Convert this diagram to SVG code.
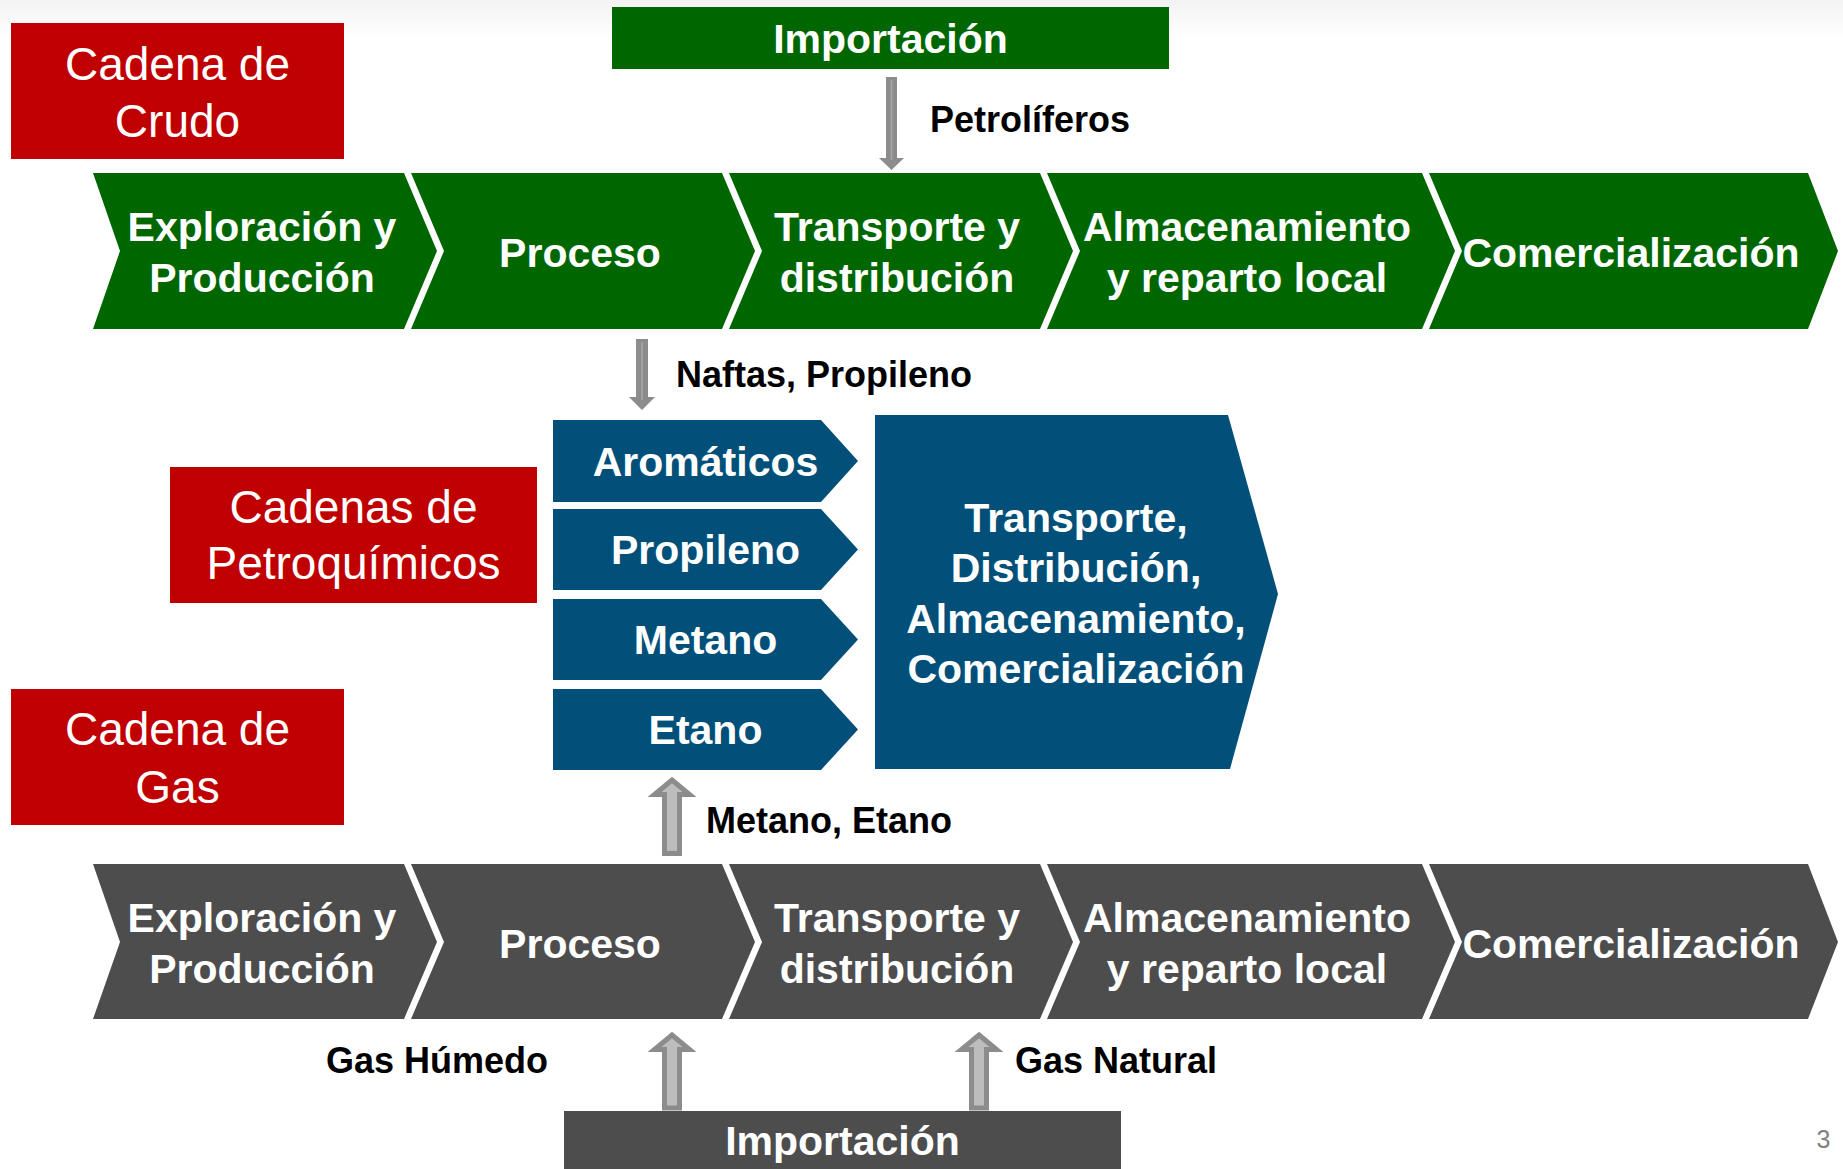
<svg xmlns="http://www.w3.org/2000/svg" width="1843" height="1169" viewBox="0 0 1843 1169">
<defs>
<linearGradient id="bg" x1="0" y1="0" x2="0" y2="1">
<stop offset="0" stop-color="#f3f3f3"/>
<stop offset="1" stop-color="#ffffff"/>
</linearGradient>
</defs>
<style>
text{font-family:"Liberation Sans",Arial,sans-serif;text-anchor:middle}
.red{fill:#c00000}
.green{fill:#006600}
.blue{fill:#02507a}
.gray{fill:#4d4d4d}
.t46{font-size:46px;fill:#ffffff}
.t41{font-size:41px;font-weight:bold;fill:#ffffff}
.lbl{font-size:36px;font-weight:bold;fill:#000000;text-anchor:start}
.dn{fill:#8c8c8c}
.dnl{stroke:#a8a8a8;stroke-width:1.5}
.up{fill:#bdbdbd;stroke:#8c8c8c;stroke-width:5;stroke-linejoin:miter}
.pg{font-size:25px;fill:#808080}
</style>
<rect x="0" y="0" width="1843" height="1169" fill="#ffffff"/>
<rect x="0" y="0" width="1843" height="40" fill="url(#bg)"/>

<g id="cadena-crudo">
<rect class="red" x="11" y="23" width="333" height="136"/>
<text class="t46" x="177.5" y="80">Cadena de</text>
<text class="t46" x="177.5" y="137">Crudo</text>
</g>
<g id="importacion-crudo">
<rect class="green" x="612" y="7" width="557" height="62"/>
<text class="t41" x="890.5" y="53">Importación</text>
</g>

<g id="crudo-exploracion">
<polygon class="green" points="93,173 404,173 437,251 404,329 93,329 120,251"/>
<text class="t41" x="262" y="241">Exploración y</text>
<text class="t41" x="262" y="292">Producción</text>
</g>
<g id="crudo-proceso">
<polygon class="green" points="411,173 722,173 755,251 722,329 411,329 444,251"/>
<text class="t41" x="580" y="267">Proceso</text>
</g>
<g id="crudo-transporte">
<polygon class="green" points="729,173 1040,173 1073,251 1040,329 729,329 762,251"/>
<text class="t41" x="897" y="241">Transporte y</text>
<text class="t41" x="897" y="292">distribución</text>
</g>
<g id="crudo-almacenamiento">
<polygon class="green" points="1047,173 1422,173 1455,251 1422,329 1047,329 1080,251"/>
<text class="t41" x="1247" y="241">Almacenamiento</text>
<text class="t41" x="1247" y="292">y reparto local</text>
</g>
<g id="crudo-comercializacion">
<polygon class="green" points="1429,173 1808,173 1838,251 1808,329 1429,329 1462,251"/>
<text class="t41" x="1631" y="267">Comercialización</text>
</g>

<g id="cadenas-petroquimicos">
<rect class="red" x="170" y="467" width="367" height="136"/>
<text class="t46" x="353.5" y="523">Cadenas de</text>
<text class="t46" x="353.5" y="579">Petroquímicos</text>
</g>
<g id="aromaticos">
<polygon class="blue" points="553,420 821,420 858,461 821,502 553,502"/>
<text class="t41" x="705.5" y="476">Aromáticos</text>
</g>
<g id="propileno">
<polygon class="blue" points="553,509 821,509 858,549.5 821,590 553,590"/>
<text class="t41" x="705.5" y="564">Propileno</text>
</g>
<g id="metano">
<polygon class="blue" points="553,599 821,599 858,639.5 821,680 553,680"/>
<text class="t41" x="705.5" y="654">Metano</text>
</g>
<g id="etano">
<polygon class="blue" points="553,689 821,689 858,729.5 821,770 553,770"/>
<text class="t41" x="705.5" y="744">Etano</text>
</g>
<g id="petro-transporte">
<polygon class="blue" points="875,415 1228,415 1278,594 1230,769 875,769"/>
<text class="t41" x="1076" y="532">Transporte,</text>
<text class="t41" x="1076" y="582">Distribución,</text>
<text class="t41" x="1076" y="633">Almacenamiento,</text>
<text class="t41" x="1076" y="683">Comercialización</text>
</g>

<g id="cadena-gas">
<rect class="red" x="11" y="689" width="333" height="136"/>
<text class="t46" x="177.5" y="745">Cadena de</text>
<text class="t46" x="177.5" y="803">Gas</text>
</g>
<g id="gas-exploracion">
<polygon class="gray" points="93,864 404,864 437,942 404,1019 93,1019 120,942"/>
<text class="t41" x="262" y="932">Exploración y</text>
<text class="t41" x="262" y="983">Producción</text>
</g>
<g id="gas-proceso">
<polygon class="gray" points="411,864 722,864 755,942 722,1019 411,1019 444,942"/>
<text class="t41" x="580" y="958">Proceso</text>
</g>
<g id="gas-transporte">
<polygon class="gray" points="729,864 1040,864 1073,942 1040,1019 729,1019 762,942"/>
<text class="t41" x="897" y="932">Transporte y</text>
<text class="t41" x="897" y="983">distribución</text>
</g>
<g id="gas-almacenamiento">
<polygon class="gray" points="1047,864 1422,864 1455,942 1422,1019 1047,1019 1080,942"/>
<text class="t41" x="1247" y="932">Almacenamiento</text>
<text class="t41" x="1247" y="983">y reparto local</text>
</g>
<g id="gas-comercializacion">
<polygon class="gray" points="1429,864 1808,864 1838,942 1808,1019 1429,1019 1462,942"/>
<text class="t41" x="1631" y="958">Comercialización</text>
</g>
<g id="importacion-gas">
<rect class="gray" x="564" y="1111" width="557" height="64"/>
<text class="t41" x="842.5" y="1155">Importación</text>
</g>

<g id="connectors">
<g id="arrow-petroliferos">
<polygon class="dn" points="886,77 897,77 897,158 904,158 891.5,170 879,158 886,158"/>
<line class="dnl" x1="891.5" y1="80" x2="891.5" y2="160"/>
<text class="lbl" x="930" y="132">Petrolíferos</text>
</g>
<g id="arrow-naftas">
<polygon class="dn" points="636,339 648,339 648,397 655,397 642,410 629,397 636,397"/>
<line class="dnl" x1="642" y1="342" x2="642" y2="400"/>
<text class="lbl" x="676" y="387">Naftas, Propileno</text>
</g>
<g id="arrow-metano-etano">
<polygon class="up" points="672,780 689.5,794.5 679.5,794.5 679.5,853.5 664.5,853.5 664.5,794.5 654.5,794.5"/>
<text class="lbl" x="706" y="833">Metano, Etano</text>
</g>
<g id="arrow-gas-humedo">
<polygon class="up" points="672,1035 689.5,1049.5 679.5,1049.5 679.5,1108 664.5,1108 664.5,1049.5 654.5,1049.5"/>
<text class="lbl" x="548" y="1073" style="text-anchor:end">Gas Húmedo</text>
</g>
<g id="arrow-gas-natural">
<polygon class="up" points="979,1035 996.5,1049.5 986.5,1049.5 986.5,1108 971.5,1108 971.5,1049.5 961.5,1049.5"/>
<text class="lbl" x="1015" y="1073">Gas Natural</text>
</g>
</g>

<text class="pg" x="1823.5" y="1148">3</text>
</svg>
